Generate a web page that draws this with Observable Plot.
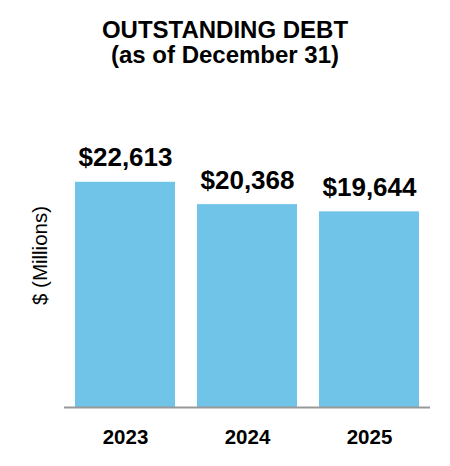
<!DOCTYPE html>
<html>
<head>
<meta charset="utf-8">
<script src="https://cdn.jsdelivr.net/npm/d3@7"></script>
<script src="https://cdn.jsdelivr.net/npm/@observablehq/plot@0.6"></script>
<style>
  html, body { margin: 0; padding: 0; background: #fff; }
  body { width: 450px; height: 466px; overflow: hidden; font-family: "Liberation Sans", Arial, sans-serif; }
  #title { box-sizing: border-box; height: 80px; padding-top: 18.2px; text-align: center; font-weight: bold; font-size: 24px; line-height: 24.5px; color: #000; }
  #chart svg { display: block; }
</style>
</head>
<body>
<div id="title">OUTSTANDING DEBT<br>(as of December 31)</div>
<div id="chart"></div>
<script>
const years = ["2023", "2024", "2025"];
const debt = [22613, 20368, 19644];
const valueLabels = ["$22,613", "$20,368", "$19,644"];
const yAxisLabel = "$ (Millions)";

const data = years.map((y, i) => ({year: y, value: debt[i], label: valueLabels[i]}));

const chart = Plot.plot({
  width: 450,
  height: 386,
  marginLeft: 64,
  marginRight: 20,
  marginTop: 78,
  marginBottom: 59,
  style: {fontFamily: '"Liberation Sans", Arial, sans-serif', color: "#000", background: "#fff"},
  x: {domain: years, paddingInner: 0.18, paddingOuter: 0.09, label: null, axis: null},
  y: {domain: [0, 25000], axis: null},
  marks: [
    Plot.barY(data, {x: "year", y: "value", fill: "#70C4E8"}),
    Plot.ruleY([0], {stroke: "#999999", strokeWidth: 2}),
    Plot.text(data, {x: "year", y: "value", text: "label", lineAnchor: "bottom", dy: -16, fontSize: 26, fontWeight: "bold", fill: "#000"}),
    Plot.text(data, {x: "year", text: "year", frameAnchor: "bottom", lineAnchor: "top", dy: 22, fontSize: 20.5, fontWeight: "bold", fill: "#000"}),
    Plot.text([yAxisLabel], {text: d => d, frameAnchor: "left", rotate: -90, textAnchor: "middle", lineAnchor: "middle", dx: -24.5, dy: -27.5, fontSize: 20.5, fill: "#000"})
  ]
});
document.getElementById("chart").appendChild(chart);
</script>
</body>
</html>
